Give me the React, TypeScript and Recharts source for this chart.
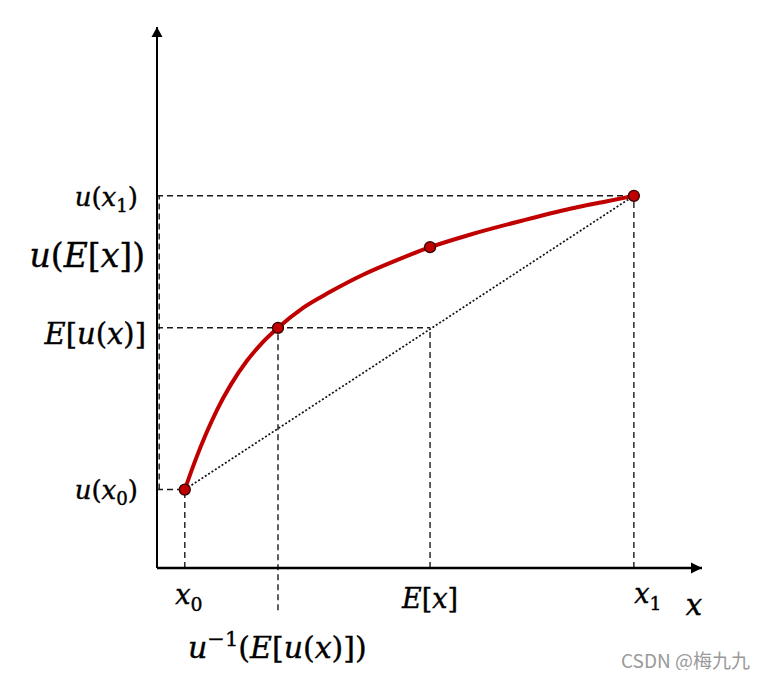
import { ComposedChart, Line, Scatter, XAxis, YAxis, ReferenceLine, ReferenceDot } from "recharts";

// utility curve u(x)
const curveX = [5.1, 7.0, 9.0, 11.0, 13.5, 16.5, 19.0, 22.2, 26.8, 31.7, 37.8, 44.0, 50.1, 57.4, 66.6, 75.8, 82.6, 87.5];
const curveU = [14.5, 19.8, 24.8, 29.2, 33.8, 38.3, 41.3, 44.4, 48.1, 51.0, 54.2, 56.9, 59.3, 61.6, 64.1, 66.4, 67.8, 68.8];

// marked points: x0, u^-1(E[u(x)]), E[x], x1
const keyX = [5.1, 22.2, 50.1, 87.5];
const keyU = [14.5, 44.4, 59.3, 68.8];

const xTickLabels = ["x_0", "u^{\u22121}(E[u(x)])", "E[x]", "x_1"];
const yTickLabels = ["u(x_0)", "E[u(x)]", "u(E[x])", "u(x_1)"];

const curve = curveX.map((x, i) => ({ x, u: curveU[i] }));
const points = keyX.map((x, i) => ({ x, u: keyU[i] }));
const chord = [points[0], points[3]];

const FONT = "'DejaVu Serif', serif";
const RED = "#C00000";
const DASH = { stroke: "#1a1a1a", strokeWidth: 1.4, strokeDasharray: "6 4" };

// per-label placement (size, dx, baseline dy, anchor)
const xTickStyle = [
  { size: 27, dx: 4, dy: 36, anchor: "middle" },
  { size: 30, dx: 0, dy: 90, anchor: "start", left: -90 },
  { size: 27, dx: 0, dy: 40, anchor: "middle" },
  { size: 27, dx: 14, dy: 35, anchor: "middle" },
];
const yTickStyle = [
  { size: 26, dx: -19, dy: 9 },
  { size: 29, dx: -11, dy: 16 },
  { size: 33, dx: -12, dy: 20 },
  { size: 26, dx: -19, dy: 10 },
];

function MathText({ src, x, y, size, anchor }: { src: string; x: number; y: number; size: number; anchor: string }) {
  const parts: any[] = [];
  let i = 0;
  let pending = 0;
  while (i < src.length) {
    const c = src[i];
    if (c === "_" || c === "^") {
      let s: string;
      if (src[i + 1] === "{") {
        const j = src.indexOf("}", i);
        s = src.slice(i + 2, j);
        i = j + 1;
      } else {
        s = src[i + 1];
        i += 2;
      }
      const d = c === "_" ? size * 0.25 : -size * 0.4;
      parts.push(
        <tspan key={"s" + i} fontSize={size * 0.7} fontStyle="normal" dy={d + pending}>
          {s}
        </tspan>
      );
      pending = -d;
      continue;
    }
    const italic = /[a-zA-Z]/.test(c);
    parts.push(
      <tspan key={i} fontStyle={italic ? "italic" : "normal"} dy={pending || undefined}>
        {c}
      </tspan>
    );
    pending = 0;
    i++;
  }
  return (
    <text
      x={x}
      y={y}
      fontSize={size}
      fontFamily={FONT}
      fill="#000"
      stroke="#000"
      strokeWidth={0.4}
      textAnchor={anchor}
    >
      {parts}
    </text>
  );
}

function XTick(props: any) {
  const idx = keyX.indexOf(props.payload.value);
  if (idx < 0) return null;
  const st = xTickStyle[idx];
  const x = st.left !== undefined ? props.x + st.left : props.x + st.dx;
  return <MathText src={xTickLabels[idx]} x={x} y={props.y + st.dy} size={st.size} anchor={st.anchor} />;
}

function YTick(props: any) {
  const idx = keyU.indexOf(props.payload.value);
  if (idx < 0) return null;
  const st = yTickStyle[idx];
  return <MathText src={yTickLabels[idx]} x={props.x + st.dx} y={props.y + st.dy} size={st.size} anchor="end" />;
}

function XTitle(props: any) {
  const vb = props.viewBox;
  return <MathText src="x" x={vb.x + vb.width - 8} y={vb.y + 47} size={29} anchor="middle" />;
}

export default function App() {
  return (
    <div style={{ position: "relative", width: 752, height: 662 }}>
      <ComposedChart width={752} height={662} margin={{ top: 19, right: 58, bottom: 2, left: 9 }}>
        <XAxis
          type="number"
          dataKey="x"
          domain={[0, 100]}
          ticks={keyX}
          interval={0}
          tick={<XTick />}
          tickLine={false}
          tickSize={0}
          tickMargin={0}
          axisLine={{ stroke: "#000", strokeWidth: 2.4 }}
          height={100}
          allowDataOverflow
          label={<XTitle />}
        />
        <YAxis
          type="number"
          dataKey="u"
          domain={[0, 100]}
          ticks={keyU}
          interval={0}
          tick={<YTick />}
          tickLine={false}
          tickSize={0}
          tickMargin={0}
          axisLine={{ stroke: "#000", strokeWidth: 2 }}
          width={140}
          allowDataOverflow
        />

        {/* dashed guides */}
        <ReferenceLine segment={[{ x: 0, y: keyU[3] }, { x: keyX[3], y: keyU[3] }]} {...DASH} />
        <ReferenceLine segment={[{ x: 0, y: keyU[1] }, { x: keyX[2], y: keyU[1] }]} {...DASH} />
        <ReferenceLine segment={[{ x: 0, y: keyU[0] }, { x: keyX[0], y: keyU[0] }]} {...DASH} />
        <ReferenceLine segment={[{ x: keyX[0], y: 0 }, { x: keyX[0], y: keyU[0] }]} {...DASH} />
        <ReferenceLine segment={[{ x: keyX[1], y: -7.8 }, { x: keyX[1], y: keyU[1] }]} {...DASH} ifOverflow="visible" />
        <ReferenceLine segment={[{ x: keyX[2], y: 0 }, { x: keyX[2], y: keyU[1] }]} {...DASH} />
        <ReferenceLine segment={[{ x: keyX[3], y: 0 }, { x: keyX[3], y: keyU[3] }]} {...DASH} />
        <ReferenceLine segment={[{ x: 0.4, y: keyU[0] }, { x: 0.4, y: keyU[3] }]} {...DASH} />

        {/* axis arrowheads */}
        <ReferenceDot
          x={0}
          y={100}
          ifOverflow="visible"
          shape={(p: any) => <path d={`M${p.cx},${p.cy} l-5.5,10 l11,0 z`} fill="#000" />}
        />
        <ReferenceDot
          x={100}
          y={0}
          ifOverflow="visible"
          shape={(p: any) => <path d={`M${p.cx},${p.cy} l-11,-5.5 l0,11 z`} fill="#000" />}
        />

        <Line
          data={chord}
          dataKey="u"
          type="linear"
          stroke="#111"
          strokeWidth={1.7}
          strokeDasharray="2 2"
          dot={false}
          activeDot={false}
          isAnimationActive={false}
        />
        <Line
          data={curve}
          dataKey="u"
          type="monotone"
          stroke={RED}
          strokeWidth={4}
          dot={false}
          activeDot={false}
          isAnimationActive={false}
        />
        <Scatter
          data={points}
          dataKey="u"
          isAnimationActive={false}
          shape={(p: any) => <circle cx={p.cx} cy={p.cy} r={5.5} fill={RED} stroke="#300" strokeWidth={1.3} />}
        />
      </ComposedChart>
      <div
        style={{
          position: "absolute",
          left: 613,
          top: 641,
          fontFamily: "'Noto Sans CJK SC', 'Noto Sans', sans-serif",
          fontSize: 19,
          lineHeight: "22px",
          color: "#9a9a9a",
          whiteSpace: "nowrap",
        }}
      >
        CSDN @梅九九
      </div>
    </div>
  );
}
